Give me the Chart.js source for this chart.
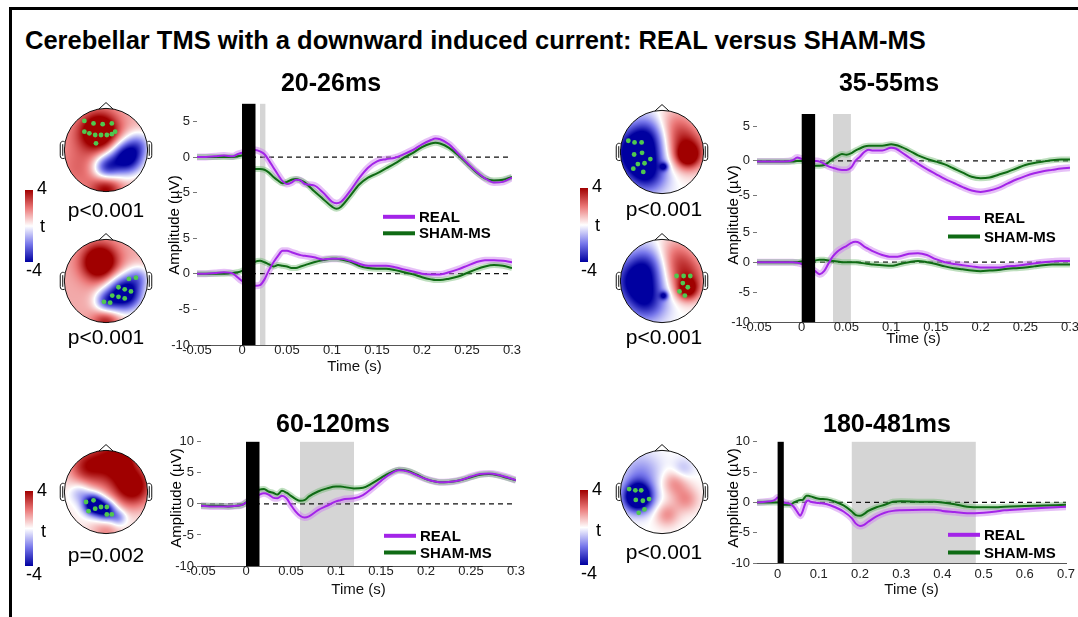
<!DOCTYPE html>
<html>
<head>
<meta charset="utf-8">
<title>Cerebellar TMS: REAL versus SHAM-MS</title>
<script src="https://cdn.jsdelivr.net/npm/chart.js@4.4.1/dist/chart.umd.min.js"></script>
<style>
  html, body { margin: 0; padding: 0; background: #fff; }
  body { position: relative; width: 1078px; height: 617px; overflow: hidden;
         font-family: "Liberation Sans", Arial, Helvetica, sans-serif; color: #000; }
  .frame { position: absolute; left: 9px; top: 7px; width: 1100px; height: 640px;
           border-top: 3px solid #000; border-left: 3px solid #000; }
  canvas { position: absolute; }
  h1 { position: absolute; left: 25px; top: 26px; margin: 0; font-size: 25.5px; line-height: 28px;
       font-weight: bold; white-space: nowrap; }
  .ylab { position: absolute; font-size: 15px; white-space: nowrap;
          transform: translate(-50%, -50%) rotate(-90deg); }
  .pval { position: absolute; font-size: 21px; white-space: nowrap; transform: translate(-50%, -50%); }
  .cbar { position: absolute; width: 8px;
          background: linear-gradient(to bottom, #a00000 0%, #eb7878 25%, #ffffff 50%, #7878eb 75%, #0000a0 100%); }
  .cb { position: absolute; font-size: 18px; line-height: 18px; transform: translateY(-50%); }
</style>
</head>
<body>
<div class="frame"></div>
<h1>Cerebellar TMS with a downward induced current: REAL versus SHAM-MS</h1>

<canvas id="p1" width="376" height="316" style="left:150px;top:60px"></canvas>
<canvas id="p2" width="376" height="288" style="left:708px;top:60px"></canvas>
<canvas id="p3" width="380" height="198" style="left:150px;top:401px"></canvas>
<canvas id="p4" width="372" height="198" style="left:708px;top:401px"></canvas>

<div class="ylab" style="left:173px;top:225px">Amplitude (µV)</div>
<div class="ylab" style="left:732px;top:215px">Amplitude (µV)</div>
<div class="ylab" style="left:175px;top:498px">Amplitude (µV)</div>
<div class="ylab" style="left:732px;top:498px">Amplitude (µV)</div>

<canvas id="tA1" width="112" height="112" style="left:50px;top:94px"></canvas>
<canvas id="tA2" width="112" height="112" style="left:50px;top:225px"></canvas>
<canvas id="tB1" width="112" height="112" style="left:606px;top:96px"></canvas>
<canvas id="tB2" width="112" height="112" style="left:606px;top:225px"></canvas>
<canvas id="tC" width="112" height="112" style="left:50px;top:436px"></canvas>
<canvas id="tD" width="112" height="112" style="left:606px;top:436px"></canvas>

<div class="pval" style="left:106px;top:210px">p&lt;0.001</div>
<div class="pval" style="left:106px;top:337px">p&lt;0.001</div>
<div class="pval" style="left:664px;top:209px">p&lt;0.001</div>
<div class="pval" style="left:664px;top:337px">p&lt;0.001</div>
<div class="pval" style="left:106px;top:555px">p=0.002</div>
<div class="pval" style="left:664px;top:552px">p&lt;0.001</div>

<div class="cbar" style="left:25px;top:190px;height:72px"></div>
<div class="cb" style="left:37px;top:188px">4</div>
<div class="cb" style="left:40px;top:226px">t</div>
<div class="cb" style="left:26px;top:270px">-4</div>

<div class="cbar" style="left:580px;top:188px;height:74px"></div>
<div class="cb" style="left:592px;top:186px">4</div>
<div class="cb" style="left:595px;top:225px">t</div>
<div class="cb" style="left:581px;top:270px">-4</div>

<div class="cbar" style="left:25px;top:491px;height:75px"></div>
<div class="cb" style="left:37px;top:490px">4</div>
<div class="cb" style="left:41px;top:531px">t</div>
<div class="cb" style="left:26px;top:574px">-4</div>

<div class="cbar" style="left:580px;top:490px;height:75px"></div>
<div class="cb" style="left:592px;top:489px">4</div>
<div class="cb" style="left:596px;top:530px">t</div>
<div class="cb" style="left:581px;top:573px">-4</div>

<script>
// ---- time bases (s) ----
const timeA = [-0.05, -0.04, -0.03, -0.02, -0.01, -0.005, 0, 0.015, 0.02, 0.025,
  0.03, 0.035, 0.04, 0.045, 0.05, 0.055, 0.06, 0.065, 0.07, 0.08,
  0.09, 0.1, 0.105, 0.11, 0.12, 0.13, 0.14, 0.15, 0.16, 0.17,
  0.18, 0.19, 0.2, 0.21, 0.215, 0.22, 0.23, 0.24, 0.25, 0.26,
  0.27, 0.28, 0.29, 0.3];
const timeB = [-0.05, -0.04, -0.03, -0.02, -0.01, -0.005, 0, 0.015, 0.02, 0.025,
  0.03, 0.035, 0.04, 0.045, 0.05, 0.055, 0.06, 0.065, 0.07, 0.075,
  0.08, 0.09, 0.1, 0.105, 0.11, 0.12, 0.13, 0.14, 0.15, 0.16,
  0.17, 0.18, 0.19, 0.2, 0.21, 0.22, 0.23, 0.24, 0.25, 0.26,
  0.27, 0.28, 0.29, 0.3];
const timeC = [-0.05, -0.03, -0.01, -0.005, 0, 0.015, 0.02, 0.03, 0.04, 0.05,
  0.055, 0.06, 0.07, 0.075, 0.08, 0.1, 0.12, 0.14, 0.16, 0.18,
  0.19, 0.2, 0.21, 0.22, 0.24, 0.26, 0.28, 0.3, 0.35, 0.38,
  0.4, 0.43, 0.46, 0.5, 0.53, 0.55, 0.6, 0.65, 0.7];

// ---- 20-26ms (two electrode clusters) ----
const p1TopReal = [0, 0, 0.1, 0.2, 0.1, 0.4, 0.6, 1.0, 0.8, 0.4,
  -0.5, -1.5, -2.5, -3.4, -3.8, -3.6, -3.2, -3.3, -3.8, -4.0,
  -5.0, -6.3, -6.5, -6.3, -4.8, -3.0, -1.5, -0.6, -0.3, -0.1,
  0.4, 1.0, 1.8, 2.4, 2.6, 2.5, 1.8, 0.5, -0.8, -2.0,
  -3.0, -3.6, -3.5, -2.9];
const p1TopSham = [0, 0, 0, 0, 0, 0.1, 0.2, -1.7, -1.7, -1.8,
  -2.2, -2.8, -3.3, -3.7, -3.5, -3.2, -3.1, -3.3, -3.6, -4.8,
  -5.9, -7.0, -7.3, -7.0, -5.5, -3.9, -2.9, -2.3, -1.6, -0.9,
  -0.1, 0.6, 1.4, 1.9, 2.0, 1.9, 1.3, 0.3, -0.9, -2.1,
  -3.0, -3.3, -3.2, -2.8];
const p1BotReal = [0, 0, 0.1, 0.2, 0, -0.5, -1.0, -1.7, -1.6, -0.8,
  0.5, 1.6, 2.5, 3.2, 3.2, 3.0, 2.8, 2.6, 2.5, 2.3,
  2.0, 2.1, 2.1, 2.1, 1.8, 1.4, 1.1, 1.1, 1.1, 0.9,
  0.6, 0.3, 0, -0.1, -0.1, -0.1, 0.2, 0.6, 1.1, 1.6,
  1.9, 1.9, 1.8, 1.6];
const p1BotSham = [0, 0, 0, 0, 0.1, 0.2, 0.4, 1.7, 1.8, 1.6,
  1.3, 1.0, 1.2, 1.1, 1.0, 0.8, 0.8, 1.0, 1.2, 1.6,
  1.9, 2.1, 2.1, 2.0, 1.7, 1.1, 0.8, 0.7, 0.7, 0.5,
  0.2, -0.1, -0.5, -0.8, -0.9, -0.9, -0.7, -0.4, 0.1, 0.6,
  1.0, 1.2, 1.1, 0.8];

// ---- 35-55ms ----
const p2TopReal = [-0.1, -0.1, -0.1, -0.1, 0.1, 0.5, 0.3, 0, -0.1, -0.4,
  -0.8, -1.0, -1.2, -1.3, -1.3, -1.0, 0, 0.6, 1.3, 1.6,
  1.5, 1.5, 1.9, 1.8, 1.4, 0.5, -0.4, -1.2, -1.9, -2.6,
  -3.2, -3.8, -4.3, -4.5, -4.3, -3.9, -3.3, -2.7, -2.2, -1.8,
  -1.5, -1.3, -1.1, -1.0];
const p2TopSham = [-0.1, -0.1, -0.1, -0.1, -0.1, 0, 0, -0.7, -0.7, -0.6,
  -0.2, 0.3, 0.7, 1.0, 0.9, 1.1, 1.5, 1.8, 2.1, 2.2,
  2.2, 2.2, 2.4, 2.3, 2.1, 1.5, 0.8, 0.3, -0.1, -0.5,
  -1.1, -1.7, -2.3, -2.5, -2.4, -2.0, -1.6, -1.1, -0.6, -0.3,
  -0.1, 0.1, 0.2, 0.2];
const p2BotReal = [0, 0, 0, 0, 0, -0.1, -0.3, -1.5, -2.0, -1.5,
  -0.2, 1.0, 1.8, 2.3, 2.7, 3.2, 3.4, 3.2, 2.6, 2.2,
  1.8, 1.2, 0.9, 0.9, 1.0, 1.4, 1.5, 1.2, 0.5, 0,
  -0.3, -0.5, -0.7, -0.9, -0.9, -0.9, -0.7, -0.6, -0.4, -0.2,
  0, 0.1, 0.2, 0.2];
const p2BotSham = [0, 0, 0, 0, 0, 0, 0.1, 0.3, 0.4, 0.4,
  0.3, 0.2, 0.1, 0, 0, 0, 0, -0.1, -0.2, -0.3,
  -0.4, -0.5, -0.6, -0.5, -0.3, 0, 0.2, 0, -0.3, -0.7,
  -1.0, -1.2, -1.4, -1.5, -1.4, -1.3, -1.1, -1.0, -0.9, -0.7,
  -0.5, -0.4, -0.4, -0.4];

// ---- 60-120ms ----
const p3Real = [-0.3, -0.4, -0.4, -0.4, -0.3, -0.2, 0.2, 1.5, 1.7, 1.5,
  1.0, 0.9, 1.3, 0.9, -0.2, -1.2, -1.9, -2.2, -2.0, -1.0,
  -0.3, 0.4, 0.6, 0.8, 0.9, 1.4, 2.5, 3.7, 4.8, 5.4,
  5.2, 4.6, 4.0, 3.6, 3.5, 3.5, 3.6, 3.9, 4.4, 4.8,
  4.9, 4.7, 4.3, 3.8];
const p3Sham = [-0.3, -0.3, -0.3, -0.4, -0.3, -0.2, 0.2, 2.3, 2.4, 2.0,
  1.8, 1.5, 2.1, 1.8, 1.3, 0.8, 0.5, 0.6, 1.2, 2.0,
  2.5, 2.8, 2.8, 2.7, 2.5, 2.6, 3.3, 4.2, 5.0, 5.5,
  5.3, 4.7, 4.0, 3.6, 3.5, 3.5, 3.6, 3.9, 4.3, 4.7,
  4.8, 4.6, 4.2, 3.8];

// ---- 180-481ms ----
const p4Real = [0, 0.1, 0.3, 0.5, 0.8, 0, -0.1, -0.2, -0.8, -1.8,
  -2.2, -1.6, 0.2, 0.3, 0.1, -0.1, -0.3, -0.8, -1.5, -2.6,
  -3.5, -3.9, -3.7, -3.2, -2.3, -1.7, -1.4, -1.3, -1.2, -1.2,
  -1.4, -1.6, -1.8, -1.7, -1.5, -1.3, -1.1, -0.9, -0.7];
const p4Sham = [0, 0, 0, 0, 0, -0.4, -0.4, -0.4, 0, 0.3,
  0.4, 0.4, 1.1, 1.1, 1.0, 0.6, 0.5, 0.1, -0.5, -1.5,
  -2.1, -2.2, -1.9, -1.4, -0.8, -0.4, 0.1, 0.2, 0.1, 0.1,
  0, -0.3, -0.7, -0.8, -0.8, -0.7, -0.6, -0.5, -0.4];

// ---- axes, windows, labels ----
const xTicksShort = [-0.05, 0, 0.05, 0.1, 0.15, 0.2, 0.25, 0.3];
const xLabelsShort = ['-0.05', '0', '0.05', '0.1', '0.15', '0.2', '0.25', '0.3'];
const xTicksLong = [0, 0.1, 0.2, 0.3, 0.4, 0.5, 0.6, 0.7];
const xLabelsLong = ['0', '0.1', '0.2', '0.3', '0.4', '0.5', '0.6', '0.7'];
const yTicksUpper = [-5, 0, 5];
const yTicksLower = [-10, -5, 0, 5];
const yTicksFull = [-10, -5, 0, 5, 10];
const pulse = [0, 0.015];
const win1 = [0.020, 0.026];
const win2 = [0.035, 0.055];
const win3 = [0.060, 0.120];
const win4 = [0.180, 0.481];
const panelTitles = ['20-26ms', '35-55ms', '60-120ms', '180-481ms'];
const seriesNames = ['REAL', 'SHAM-MS'];

// ---- scalp maps: blobs [x, y, spread, t] and significant electrodes [x, y] ----
const topoA1 = [[-0.15, 0.45, 0.32, 5], [-0.6, 0.2, 0.4, 0.6], [0.5, -0.18, 0.28, -6],
  [0.0, -0.42, 0.22, -4], [0.8, 0.15, 0.22, -2], [0, -0.95, 0.25, 3], [-0.65, -0.5, 0.35, 1]];
const topoA2 = [[-0.15, 0.45, 0.3, 5], [0.45, -0.3, 0.3, -6.5], [0, -0.5, 0.2, -3],
  [0, -0.97, 0.22, 2.5], [0.8, 0.1, 0.2, -2]];
const topoB1 = [[-0.6, 0, 0.4, -5.5], [-0.3, 0.45, 0.33, -2], [-0.35, -0.55, 0.33, -3],
  [0.62, 0.05, 0.35, 3.5], [0.62, -0.1, 0.18, 3], [0.3, 0.6, 0.35, 2], [0.05, -0.35, 0.07, -3]];
const topoB2 = [[-0.6, 0, 0.4, -4.5], [-0.3, 0.45, 0.33, -1.8], [-0.35, -0.55, 0.33, -2.5],
  [0.6, 0.1, 0.35, 2.8], [0.62, -0.2, 0.18, 3.5], [0.3, 0.6, 0.35, 2], [0.05, -0.35, 0.07, -3]];
const topoC = [[0.2, 0.75, 0.45, 4], [0.65, 0.1, 0.33, 4], [-0.5, 0.6, 0.3, 2.5], [0.35, 0.7, 0.15, 2],
  [-0.3, -0.3, 0.17, -6], [0, -0.45, 0.17, -4.5], [0.3, -0.62, 0.14, -2], [-0.62, -0.02, 0.18, -1.5],
  [0, -0.97, 0.25, 1.5]];
const topoD = [[-0.58, -0.12, 0.24, -7], [-0.5, 0.45, 0.33, -1.6], [0.3, 0.22, 0.22, 1.6],
  [0.58, -0.18, 0.22, 1.6], [0.12, -0.55, 0.2, 1.6], [0.5, 0.55, 0.18, -1]];
const elecA1 = [[-0.52, 0.7], [-0.3, 0.64], [-0.08, 0.62], [0.14, 0.64], [-0.52, 0.44], [-0.4, 0.4],
  [-0.26, 0.36], [-0.12, 0.36], [0.02, 0.36], [0.14, 0.38], [0.22, 0.44], [-0.24, 0.16]];
const elecA2 = [[0.55, 0.05], [0.72, 0.08], [0.3, -0.15], [0.45, -0.2], [0.6, -0.25], [0.15, -0.35],
  [0.3, -0.38], [0.45, -0.42], [-0.05, -0.5], [0.1, -0.52]];
const elecB1 = [[-0.81, 0.27], [-0.66, 0.23], [-0.49, 0.23], [-0.48, -0.02], [-0.67, -0.06],
  [-0.28, -0.17], [-0.42, -0.27], [-0.58, -0.29], [-0.69, -0.4], [-0.45, -0.48]];
const elecB2 = [[0.35, 0.12], [0.52, 0.12], [0.68, 0.12], [0.5, -0.05], [0.62, -0.15],
  [0.42, -0.25], [0.55, -0.35]];
const elecC = [[-0.48, -0.24], [-0.3, -0.2], [-0.12, -0.36], [0.02, -0.36], [-0.42, -0.46],
  [-0.26, -0.4], [0.02, -0.54], [0.14, -0.54]];
const elecD = [[-0.79, 0.07], [-0.64, 0.04], [-0.5, 0.04], [-0.63, -0.19], [-0.46, -0.21],
  [-0.31, -0.17], [-0.56, -0.5], [-0.42, -0.42]];

const REAL_COL = '#a324e8', REAL_BAND = 'rgba(205,130,240,0.5)';
const SHAM_COL = '#0f6b14', SHAM_BAND = 'rgba(110,185,110,0.45)';
const FONT = '"Liberation Sans", Arial, Helvetica, sans-serif';

Chart.defaults.font.family = FONT;
Chart.defaults.color = '#222';

const pts = (t, v) => t.map((x, i) => ({x, y: v[i]}));

// gray analysis window behind the traces, black TMS pulse bar over them
const stimWindows = {
  id: 'stimWindows',
  beforeDatasetsDraw(chart, args, o) {
    const {ctx, chartArea: a, scales: {x}} = chart;
    const x0 = x.getPixelForValue(o.win[0]), x1 = x.getPixelForValue(o.win[1]);
    ctx.save();
    ctx.fillStyle = '#d5d5d5';
    ctx.fillRect(x0, a.top, x1 - x0, a.bottom - a.top);
    ctx.restore();
  },
  afterDatasetsDraw(chart, args, o) {
    const {ctx, chartArea: a, scales: {x}} = chart;
    const x0 = x.getPixelForValue(o.pulse[0]), x1 = x.getPixelForValue(o.pulse[1]);
    ctx.save();
    ctx.fillStyle = '#000';
    ctx.fillRect(x0, a.top, x1 - x0, a.bottom - a.top);
    ctx.restore();
  }
};

// legend drawn inside the plot like the MATLAB one
const lineLegend = {
  id: 'lineLegend',
  afterDraw(chart, args, o) {
    const {ctx, chartArea: a} = chart;
    ctx.save();
    ctx.font = 'bold 15px ' + FONT;
    ctx.textBaseline = 'middle';
    [REAL_COL, SHAM_COL].forEach((col, i) => {
      const x = a.left + o.dx, y = a.top + o.dy + i * o.gap;
      ctx.strokeStyle = col;
      ctx.lineWidth = 4;
      ctx.beginPath(); ctx.moveTo(x, y); ctx.lineTo(x + 32, y); ctx.stroke();
      ctx.fillStyle = '#000';
      ctx.fillText(seriesNames[i], x + 36, y + 1);
    });
    ctx.restore();
  }
};

function traceSets(axis, t, real, sham, xr) {
  return [
    {data: pts(t, real), yAxisID: axis, borderColor: REAL_BAND, borderWidth: 7, order: 4},
    {data: pts(t, sham), yAxisID: axis, borderColor: SHAM_BAND, borderWidth: 6, order: 3},
    {data: pts(t, sham), yAxisID: axis, borderColor: SHAM_COL, borderWidth: 2, order: 2},
    {data: pts(t, real), yAxisID: axis, borderColor: REAL_COL, borderWidth: 2, order: 1},
    {data: [{x: xr[0], y: 0}, {x: xr[1], y: 0}], yAxisID: axis, borderColor: '#111',
     borderWidth: 1.2, borderDash: [5, 4], order: 5}
  ];
}

function traceChart(id, p) {
  const scales = {
    x: {
      type: 'linear', min: p.xr[0], max: p.xr[1],
      afterBuildTicks: ax => { ax.ticks = p.xt.map(v => ({value: v})); },
      afterFit: ax => { ax.height = p.xh; },
      ticks: {callback: (v, i) => p.xl[i], padding: p.xpad, maxRotation: 0, autoSkip: false,
              font: {size: 13}, color: '#222'},
      grid: {display: false, drawTicks: false},
      border: {display: true, color: '#555', width: 1},
      title: {display: true, text: 'Time (s)', font: {size: 15}, padding: 0, color: '#111'}
    }
  };
  let datasets = [];
  p.axes.forEach(ax => {
    const s = {
      type: 'linear', position: 'left', min: ax.range[0], max: ax.range[1],
      afterBuildTicks: sc => { sc.ticks = ax.ticks.map(v => ({value: v})); },
      afterFit: sc => { sc.width = p.yw; },
      ticks: {callback: v => String(v), padding: 3, font: {size: 13}, color: '#222'},
      grid: {drawOnChartArea: false, tickLength: 4, color: '#777'},
      border: {display: false}
    };
    if (p.axes.length > 1) { s.stack = id; s.stackWeight = ax.weight; }
    scales[ax.id] = s;
    datasets = datasets.concat(traceSets(ax.id, ax.t, ax.real, ax.sham, p.xr));
  });
  return new Chart(document.getElementById(id), {
    type: 'line',
    data: {datasets},
    options: {
      responsive: false, animation: false, events: [],
      layout: {padding: {top: 8, right: 14, left: 0, bottom: 0}},
      elements: {line: {cubicInterpolationMode: 'monotone', fill: false}, point: {radius: 0}},
      scales,
      plugins: {
        legend: {display: false}, tooltip: {enabled: false},
        title: {display: true, text: p.title, color: '#000',
                font: {size: 25, weight: 'bold'}, padding: {top: 1, bottom: p.tpad}},
        stimWindows: {win: p.win, pulse},
        lineLegend: p.legend
      }
    },
    plugins: [stimWindows, lineLegend]
  });
}

traceChart('p1', {
  title: panelTitles[0], xr: [-0.05, 0.3], xt: xTicksShort, xl: xLabelsShort, xh: 31, xpad: -2,
  yw: 47, tpad: 4.8, win: win1, legend: {dx: 186, dy: 113, gap: 16.5},
  axes: [
    {id: 'yb', range: [-10, 7.4], ticks: yTicksLower, weight: 124, t: timeA, real: p1BotReal, sham: p1BotSham},
    {id: 'yt', range: [-9, 7.5], ticks: yTicksUpper, weight: 117, t: timeA, real: p1TopReal, sham: p1TopSham}
  ]
});
traceChart('p2', {
  title: panelTitles[1], xr: [-0.05, 0.3], xt: xTicksShort, xl: xLabelsShort, xh: 26, xpad: -2,
  yw: 49, tpad: 15, win: win2, legend: {dx: 191, dy: 104, gap: 18.5},
  axes: [
    {id: 'yb', range: [-10, 6.55], ticks: yTicksLower, weight: 99, t: timeB, real: p2BotReal, sham: p2BotSham},
    {id: 'yt', range: [-9, 6.8], ticks: yTicksUpper, weight: 109, t: timeB, real: p2TopReal, sham: p2TopSham}
  ]
});
traceChart('p3', {
  title: panelTitles[2], xr: [-0.05, 0.3], xt: xTicksShort, xl: xLabelsShort, xh: 33, xpad: -2,
  yw: 51, tpad: 1.8, win: win3, legend: {dx: 183, dy: 94, gap: 16.7},
  axes: [{id: 'y', range: [-10, 10], ticks: yTicksFull, t: timeA, real: p3Real, sham: p3Sham}]
});
traceChart('p4', {
  title: panelTitles[3], xr: [-0.05, 0.7], xt: xTicksLong, xl: xLabelsLong, xh: 36, xpad: 4,
  yw: 49, tpad: 1.8, win: win4, legend: {dx: 191, dy: 93, gap: 17.7},
  axes: [{id: 'y', range: [-10, 10], ticks: yTicksFull, t: timeC, real: p4Real, sham: p4Sham}]
});

// ---- scalp topographies ----
function tColor(t) {
  const f = Math.min(Math.abs(t) / 4, 1);
  const mid = t >= 0 ? [235, 120, 120] : [120, 120, 235];
  const end = t >= 0 ? [160, 0, 0] : [0, 0, 160];
  if (f < 0.5) {
    const k = f / 0.5;
    return [0, 1, 2].map(c => 255 + (mid[c] - 255) * k);
  }
  const k = (f - 0.5) / 0.5;
  return [0, 1, 2].map(c => mid[c] + (end[c] - mid[c]) * k);
}

const topoPlugin = {
  id: 'topo',
  beforeDatasetsDraw(chart, args, o) {
    const {ctx, chartArea: a, scales: {x, y}} = chart;
    const w = Math.round(a.right - a.left), h = Math.round(a.bottom - a.top);
    const off = document.createElement('canvas');
    off.width = w; off.height = h;
    const octx = off.getContext('2d');
    const img = octx.createImageData(w, h);
    for (let j = 0; j < h; j++) {
      for (let i = 0; i < w; i++) {
        const vx = x.getValueForPixel(a.left + i + 0.5), vy = y.getValueForPixel(a.top + j + 0.5);
        if (vx * vx + vy * vy > 1) continue;
        let t = 0.9 * (o.base || 0);
        o.blobs.forEach(([bx, by, s, v]) => {
          t += v * Math.exp(-((vx - bx) ** 2 + (vy - by) ** 2) / (2 * s * s));
        });
        const c = tColor(t), k = (j * w + i) * 4;
        img.data[k] = c[0]; img.data[k + 1] = c[1]; img.data[k + 2] = c[2]; img.data[k + 3] = 255;
      }
    }
    octx.putImageData(img, 0, 0);
    ctx.drawImage(off, a.left, a.top);

    const P = (u, v) => [x.getPixelForValue(u), y.getPixelForValue(v)];
    const [cx, cy] = P(0, 0), R = x.getPixelForValue(1) - cx;
    ctx.save();
    ctx.strokeStyle = '#111';
    ctx.lineWidth = 1;
    ctx.beginPath(); ctx.arc(cx, cy, R, 0, 2 * Math.PI); ctx.stroke();
    ctx.beginPath();
    ctx.moveTo(...P(-0.17, 0.985)); ctx.lineTo(...P(0, 1.14)); ctx.lineTo(...P(0.17, 0.985));
    ctx.stroke();
    [-1, 1].forEach(s => {
      ctx.beginPath();
      ctx.moveTo(...P(s * 0.995, 0.2));
      ctx.bezierCurveTo(...P(s * 1.07, 0.23), ...P(s * 1.1, 0.18), ...P(s * 1.1, 0.12));
      ctx.lineTo(...P(s * 1.1, -0.13));
      ctx.bezierCurveTo(...P(s * 1.1, -0.19), ...P(s * 1.07, -0.22), ...P(s * 0.995, -0.2));
      ctx.stroke();
      ctx.beginPath();
      ctx.moveTo(...P(s * 1.04, 0.14)); ctx.lineTo(...P(s * 1.04, -0.14));
      ctx.stroke();
    });
    ctx.restore();
  }
};

function topoChart(id, blobs, elec, base) {
  return new Chart(document.getElementById(id), {
    type: 'scatter',
    data: {datasets: [{data: elec.map(([x, y]) => ({x, y})), pointRadius: 2.4,
                       backgroundColor: '#4fc84f', borderWidth: 0}]},
    options: {
      responsive: false, animation: false, events: [],
      layout: {padding: 0},
      scales: {x: {display: false, min: -1.25, max: 1.25}, y: {display: false, min: -1.25, max: 1.25}},
      plugins: {legend: {display: false}, tooltip: {enabled: false}, topo: {blobs, base}}
    },
    plugins: [topoPlugin]
  });
}

topoChart('tA1', topoA1, elecA1, 1.3);
topoChart('tA2', topoA2, elecA2, 1.4);
topoChart('tB1', topoB1, elecB1, 0);
topoChart('tB2', topoB2, elecB2, 0);
topoChart('tC', topoC, elecC, 0.3);
topoChart('tD', topoD, elecD, 0);
</script>
</body>
</html>
